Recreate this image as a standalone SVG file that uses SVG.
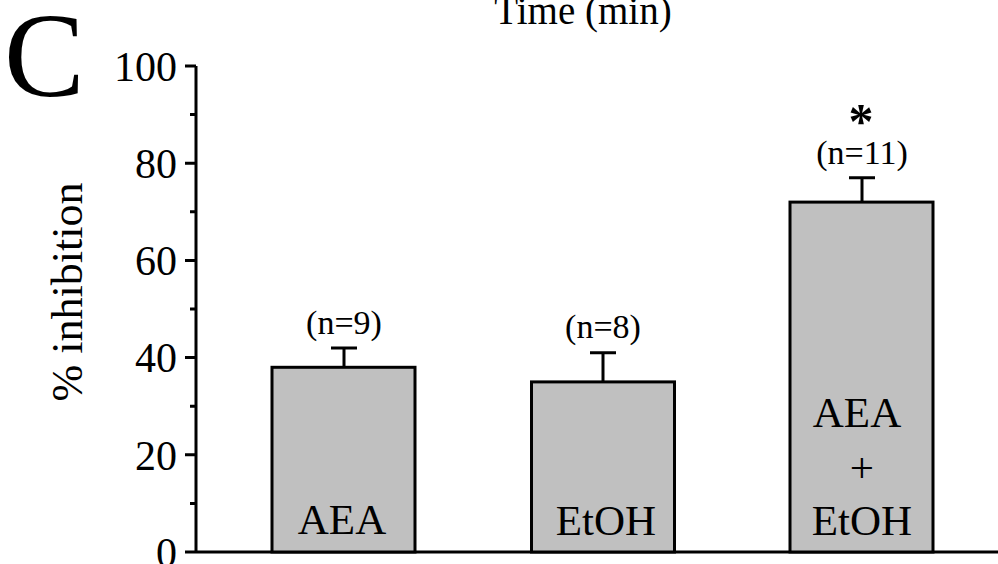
<svg xmlns="http://www.w3.org/2000/svg" width="998" height="564" viewBox="0 0 998 564">
<style>
text{font-family:"Liberation Serif","Times New Roman",serif;fill:#000}
.ax{stroke:#000;stroke-width:3;fill:none}
.bar{fill:#c0c0c0;stroke:#000;stroke-width:3}
.tick{font-size:42px;text-anchor:end}
.lab{font-size:43px;text-anchor:middle}
.n{font-size:34px;text-anchor:middle}
</style>
<rect width="998" height="564" fill="#fff"/>
<text x="583" y="24" font-size="39" text-anchor="middle">Time (min)</text>
<text x="4" y="96" font-size="121">C</text>
<text transform="translate(82,292) rotate(-90)" font-size="44" text-anchor="middle">% inhibition</text>
<g id="axes">
<path class="ax" d="M196,66 V552 M185,552 H998"/>
<path class="ax" d="M185,66 H196 M185,163.2 H196 M185,260.4 H196 M185,357.6 H196 M185,454.8 H196"/>
<path class="ax" d="M190,114.6 H196 M190,211.8 H196 M190,309 H196 M190,406.2 H196 M190,503.4 H196"/>
<text class="tick" x="177" y="81">100</text>
<text class="tick" x="177" y="178">80</text>
<text class="tick" x="177" y="275">60</text>
<text class="tick" x="177" y="372">40</text>
<text class="tick" x="177" y="470">20</text>
<text class="tick" x="177" y="567">0</text>
</g>
<g id="bar-aea">
<path class="ax" d="M344,367 V348 M331,348 H357"/>
<rect class="bar" x="272" y="367.3" width="143" height="184.7"/>
<text class="n" x="344" y="334">(n=9)</text>
<text class="lab" x="342" y="534">AEA</text>
</g>
<g id="bar-etoh">
<path class="ax" d="M603,382 V352.7 M590,352.7 H616"/>
<rect class="bar" x="531.5" y="381.9" width="143" height="170.1"/>
<text class="n" x="603" y="338">(n=8)</text>
<text class="lab" x="606" y="535">EtOH</text>
</g>
<g id="bar-combo">
<path class="ax" d="M862,202 V177.8 M849,177.8 H875"/>
<rect class="bar" x="790" y="202.1" width="143" height="349.9"/>
<text x="861" y="138" font-size="50" font-weight="bold" text-anchor="middle">*</text>
<text class="n" x="862" y="164">(n=11)</text>
<text class="lab" x="857" y="427">AEA</text>
<text class="lab" x="862" y="482">+</text>
<text class="lab" x="862" y="535">EtOH</text>
</g>
</svg>
